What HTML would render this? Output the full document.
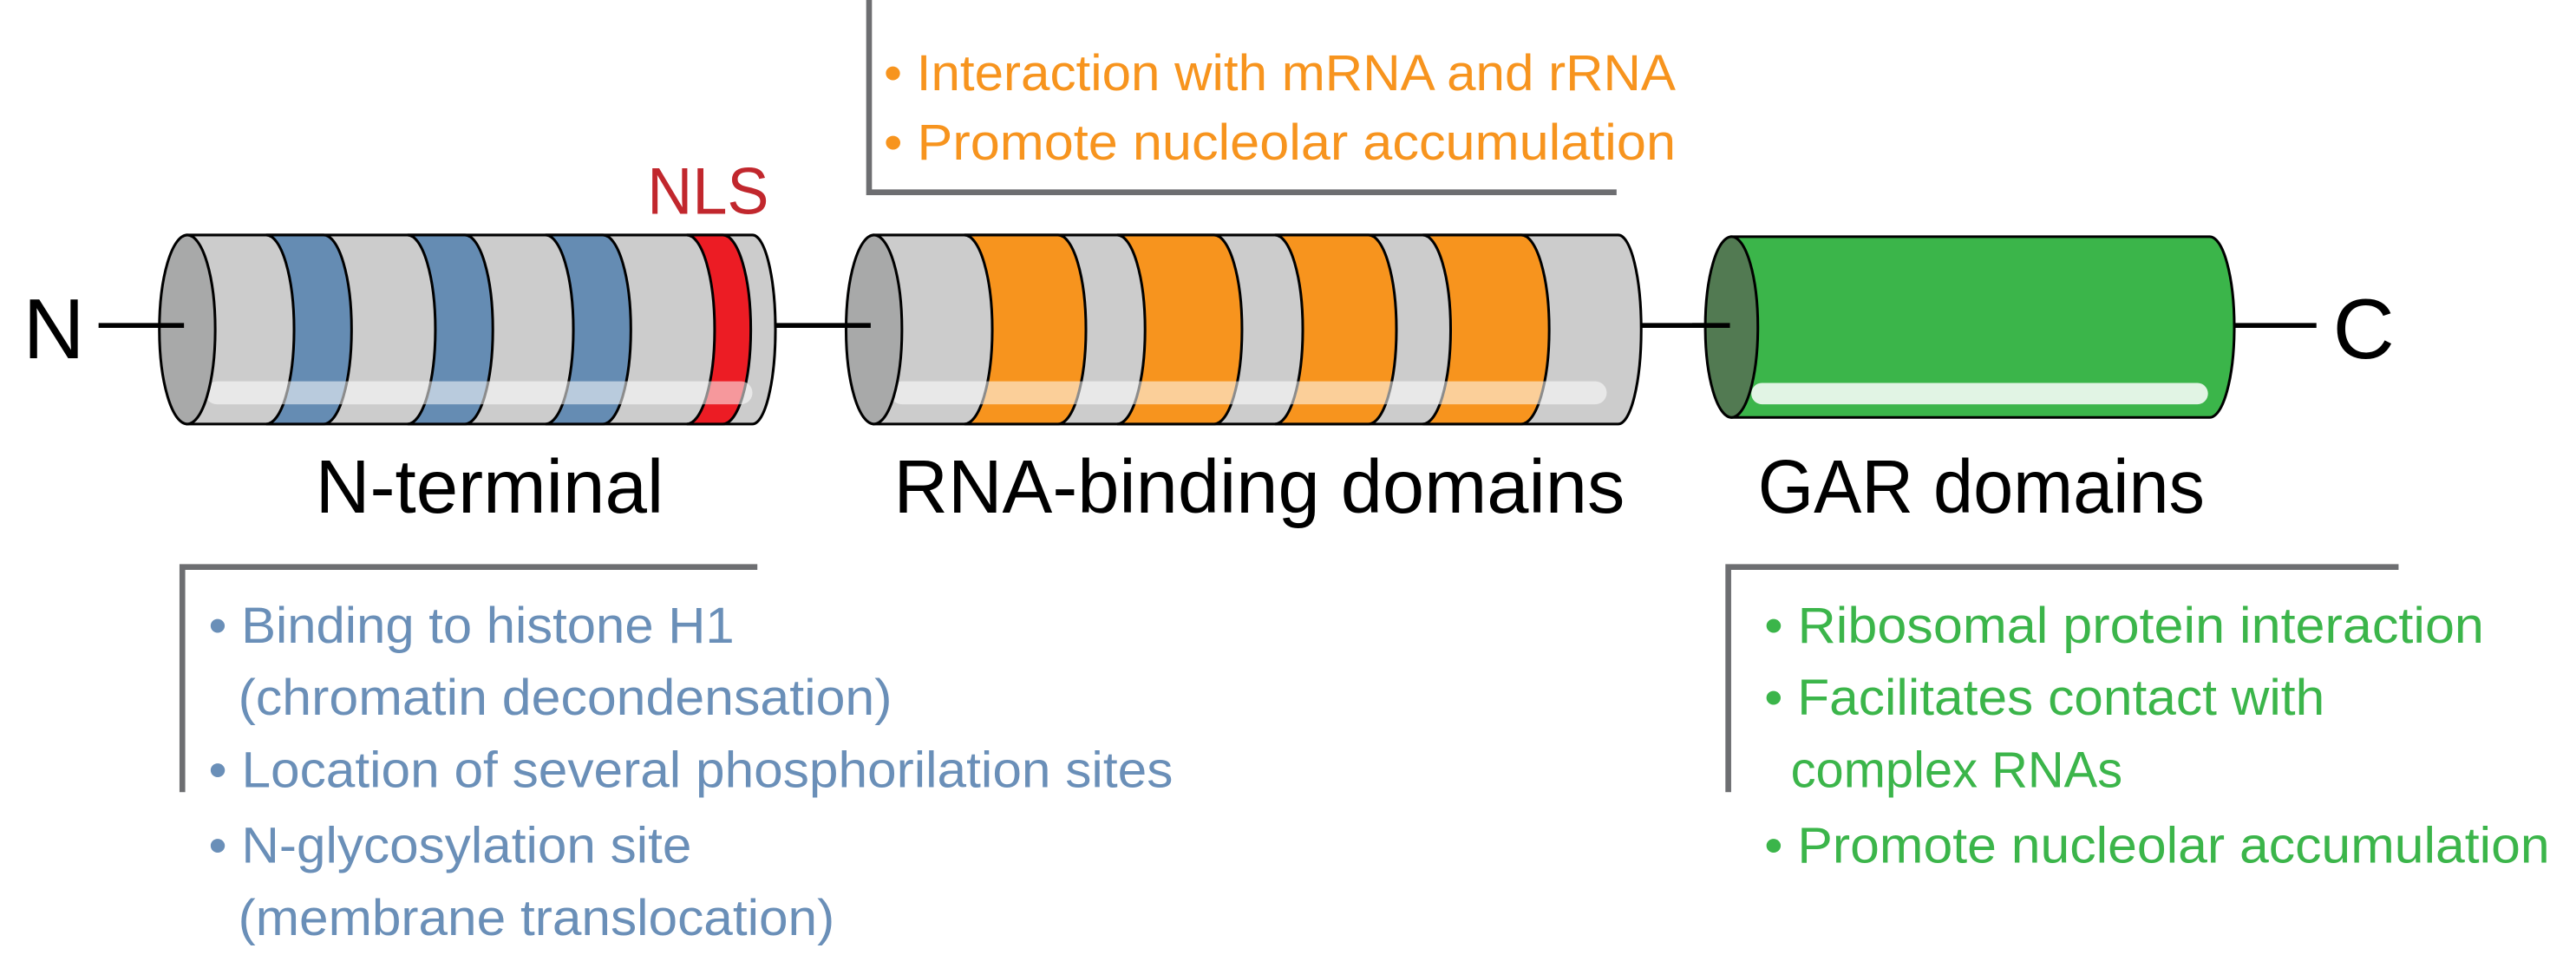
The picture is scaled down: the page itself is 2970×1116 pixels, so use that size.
<!DOCTYPE html>
<html><head><style>
html,body{margin:0;padding:0;background:#fff;}
svg{display:block;}
text{font-family:"Liberation Sans",sans-serif;}
</style></head><body>
<svg width="2970" height="1116" viewBox="0 0 1568 589" preserveAspectRatio="none" xmlns="http://www.w3.org/2000/svg">
<g stroke="#000" stroke-width="3">
<line x1="60" y1="198" x2="112" y2="198"/>
<line x1="472" y1="198" x2="530" y2="198"/>
<line x1="998" y1="198" x2="1053" y2="198"/>
<line x1="1358" y1="198" x2="1410" y2="198"/>
</g>
<text x="14" y="218" font-size="52" fill="#000">N</text>
<text x="1420" y="218" font-size="52" fill="#000">C</text>

<!-- Cylinder 1 -->
<g stroke="#000" stroke-width="1.6">
<path d="M114,143 L458,143 A14,57.5 0 0 1 458,258 L114,258 Z" fill="#cccccc"/>
<path d="M162,143 A17,57.5 0 0 1 162,258 L197,258 A17,57.5 0 0 0 197,143 Z" fill="#658cb3"/>
<path d="M248,143 A17,57.5 0 0 1 248,258 L283,258 A17,57.5 0 0 0 283,143 Z" fill="#658cb3"/>
<path d="M332,143 A17,57.5 0 0 1 332,258 L367,258 A17,57.5 0 0 0 367,143 Z" fill="#658cb3"/>
<path d="M418,143 A17,57.5 0 0 1 418,258 L440,258 A17,57.5 0 0 0 440,143 Z" fill="#ec1c24"/>
</g>
<rect x="125" y="232" width="333" height="14" rx="7" fill="#fff" opacity="0.55"/>
<ellipse cx="114" cy="200.5" rx="17" ry="57.5" fill="#a8a9a9" stroke="#000" stroke-width="1.6"/>
<line x1="97" y1="198" x2="112" y2="198" stroke="#000" stroke-width="3"/>

<!-- Cylinder 2 -->
<g stroke="#000" stroke-width="1.6">
<path d="M532,143 L985,143 A14,57.5 0 0 1 985,258 L532,258 Z" fill="#cccccc"/>
<path d="M587,143 A17,57.5 0 0 1 587,258 L644,258 A17,57.5 0 0 0 644,143 Z" fill="#f7941e"/>
<path d="M680,143 A17,57.5 0 0 1 680,258 L739,258 A17,57.5 0 0 0 739,143 Z" fill="#f7941e"/>
<path d="M776,143 A17,57.5 0 0 1 776,258 L833,258 A17,57.5 0 0 0 833,143 Z" fill="#f7941e"/>
<path d="M866,143 A17,57.5 0 0 1 866,258 L926,258 A17,57.5 0 0 0 926,143 Z" fill="#f7941e"/>
</g>
<rect x="542" y="232" width="436" height="14" rx="7" fill="#fff" opacity="0.55"/>
<ellipse cx="532" cy="200.5" rx="17" ry="57.5" fill="#a8a9a9" stroke="#000" stroke-width="1.6"/>
<line x1="515" y1="198" x2="530" y2="198" stroke="#000" stroke-width="3"/>

<!-- Cylinder 3 -->
<path d="M1054,144 L1345,144 A15,55 0 0 1 1345,254 L1054,254 Z" fill="#3bb54a" stroke="#000" stroke-width="1.6"/>
<rect x="1066" y="233" width="278" height="13" rx="6.5" fill="#fff" opacity="0.85"/>
<ellipse cx="1054" cy="199" rx="16" ry="55" fill="#527a52" stroke="#000" stroke-width="1.6"/>
<line x1="1030" y1="198" x2="1053" y2="198" stroke="#000" stroke-width="3"/>

<!-- Labels -->
<g font-size="46" fill="#000">
<text x="192" y="312" textLength="212" lengthAdjust="spacingAndGlyphs">N-terminal</text>
<text x="544" y="312" textLength="445" lengthAdjust="spacingAndGlyphs">RNA-binding domains</text>
<text x="1070" y="312" textLength="272" lengthAdjust="spacingAndGlyphs">GAR domains</text>
</g>
<text x="394" y="130" font-size="40" fill="#c1272d" textLength="74" lengthAdjust="spacingAndGlyphs">NLS</text>

<!-- Brackets -->
<g stroke="#6d6e71" stroke-width="3.5" fill="none">
<polyline points="529,0 529,117 984,117"/>
<polyline points="461,345 111,345 111,482"/>
<polyline points="1460,345 1052,345 1052,482"/>
</g>

<g font-size="31" fill="#f7941e">
<text x="538" y="55" textLength="482" lengthAdjust="spacingAndGlyphs">• Interaction with mRNA and rRNA</text>
<text x="538" y="97" textLength="482" lengthAdjust="spacingAndGlyphs">• Promote nucleolar accumulation</text>
</g>
<g font-size="31" fill="#6a8fb8">
<text x="127" y="391" textLength="320" lengthAdjust="spacingAndGlyphs">• Binding to histone H1</text>
<text x="145" y="435" textLength="398" lengthAdjust="spacingAndGlyphs">(chromatin decondensation)</text>
<text x="127" y="479" textLength="587" lengthAdjust="spacingAndGlyphs">• Location of several phosphorilation sites</text>
<text x="127" y="525" textLength="294" lengthAdjust="spacingAndGlyphs">• N-glycosylation site</text>
<text x="145" y="569" textLength="363" lengthAdjust="spacingAndGlyphs">(membrane translocation)</text>
</g>
<g font-size="31" fill="#3bb54a">
<text x="1074" y="391" textLength="438" lengthAdjust="spacingAndGlyphs">• Ribosomal protein interaction</text>
<text x="1074" y="435" textLength="341" lengthAdjust="spacingAndGlyphs">• Facilitates contact with</text>
<text x="1090" y="479" textLength="202" lengthAdjust="spacingAndGlyphs">complex RNAs</text>
<text x="1074" y="525" textLength="478" lengthAdjust="spacingAndGlyphs">• Promote nucleolar accumulation</text>
</g>
</svg>
</body></html>
